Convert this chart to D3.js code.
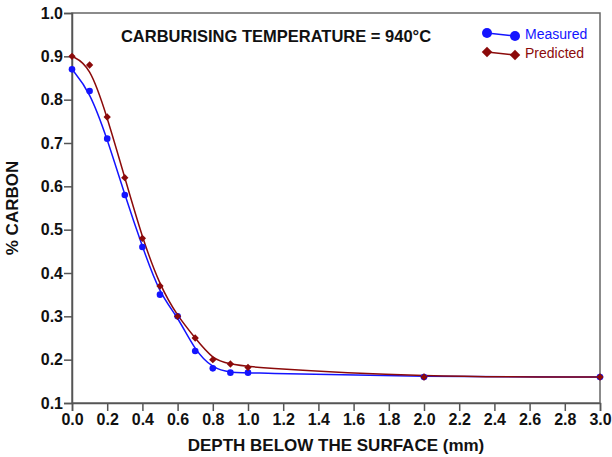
<!DOCTYPE html>
<html>
<head>
<meta charset="utf-8">
<script src="https://cdn.jsdelivr.net/npm/d3@7"></script>
<style>
  body { margin: 0; background: #fff; }
  svg { font-family: "Liberation Sans", Arial, sans-serif; }
</style>
</head>
<body>
<script>
// depth below surface (mm)
let depth = [0, 0.1, 0.2, 0.3, 0.4, 0.5, 0.6, 0.7, 0.8, 0.9, 1.0, 2.0, 3.0];
let measured  = [0.87, 0.82, 0.71, 0.58, 0.46, 0.35, 0.30, 0.22, 0.18, 0.17, 0.17, 0.16, 0.16];
let predicted = [0.90, 0.88, 0.76, 0.62, 0.48, 0.37, 0.30, 0.25, 0.20, 0.19, 0.182, 0.16, 0.16];
let xTicks = [0, 0.2, 0.4, 0.6, 0.8, 1.0, 1.2, 1.4, 1.6, 1.8, 2.0, 2.2, 2.4, 2.6, 2.8, 3.0];
let yTicks = [0.1, 0.2, 0.3, 0.4, 0.5, 0.6, 0.7, 0.8, 0.9, 1.0];

let blue = "#1414ff", red = "#8b0a0a";

let margin = {top: 13, right: 12, bottom: 54, left: 72},
    width  = 612 - margin.left - margin.right,
    height = 457 - margin.top  - margin.bottom;

let svg = d3.select("body").append("svg")
    .attr("width", 612)
    .attr("height", 457)
  .append("g")
    .attr("transform", `translate(${margin.left}, ${margin.top})`);

let xScale = d3.scaleLinear().domain([0, 3]).range([0, width]);
let yScale = d3.scaleLinear().domain([0.1, 1.0]).range([height, 0]);

// frame
svg.append("rect")
    .attr("width", width)
    .attr("height", height)
    .attr("fill", "none")
    .attr("stroke", "#666")
    .attr("stroke-width", 1.5);

function styleAxis(g) {
  g.attr("font-family", null).attr("font-size", null);
  g.selectAll(".tick line, .domain").attr("stroke", "#555").attr("stroke-width", 1.5);
  g.selectAll(".tick text")
      .style("font-size", "16px")
      .style("font-weight", "bold")
      .attr("fill", "#111");
}

svg.append("g")
    .attr("transform", `translate(0, ${height})`)
    .call(d3.axisBottom(xScale).tickValues(xTicks).tickFormat(d3.format(".1f")).tickSizeOuter(0).tickSize(8).tickPadding(3))
    .call(styleAxis);
svg.append("g")
    .call(d3.axisLeft(yScale).tickValues(yTicks).tickFormat(d3.format(".1f")).tickSizeOuter(0).tickSize(8).tickPadding(1))
    .call(styleAxis);

function drawSeries(vals, color) {
  let line = d3.line()
      .x((v, i) => xScale(depth[i]))
      .y(v => yScale(v))
      .curve(d3.curveBasis);
  svg.append("path")
      .datum(vals)
      .attr("fill", "none")
      .attr("stroke", color)
      .attr("stroke-width", 1.5)
      .attr("d", line);
}

drawSeries(measured, blue);
drawSeries(predicted, red);

svg.selectAll(".dot")
    .data(measured)
    .enter().append("circle")
      .attr("class", "dot")
      .attr("cx", (v, i) => xScale(depth[i]))
      .attr("cy", v => yScale(v))
      .attr("r", 3.3)
      .attr("fill", blue);

let diamond = d3.symbol().type(d3.symbolDiamond2).size(34);
svg.selectAll(".dia")
    .data(predicted)
    .enter().append("path")
      .attr("class", "dia")
      .attr("transform", (v, i) => `translate(${xScale(depth[i])}, ${yScale(v)})`)
      .attr("d", diamond)
      .attr("fill", red);

// title
svg.append("text")
    .attr("x", 204)
    .attr("y", 29)
    .attr("text-anchor", "middle")
    .attr("font-size", 16.5)
    .attr("font-weight", "bold")
    .attr("fill", "#111")
    .text("CARBURISING TEMPERATURE = 940°C");

// legend
let legend = svg.append("g").attr("transform", "translate(415, 20)");
let bigDiamond = d3.symbol().type(d3.symbolDiamond2).size(70);
[["Measured", blue, 0], ["Predicted", red, 19]].forEach(([name, color, dy]) => {
  let g = legend.append("g").attr("transform", `translate(0, ${dy})`);
  g.append("line")
      .attr("x1", 0).attr("y1", 0)
      .attr("x2", 28).attr("y2", 3)
      .attr("stroke", color)
      .attr("stroke-width", 1.5);
  [[0, 0], [28, 3]].forEach(([px, py]) => {
    if (name === "Measured") {
      g.append("circle").attr("cx", px).attr("cy", py).attr("r", 5).attr("fill", color);
    } else {
      g.append("path").attr("transform", `translate(${px}, ${py})`).attr("d", bigDiamond).attr("fill", color);
    }
  });
  g.append("text")
      .attr("x", 38)
      .attr("y", 6)
      .attr("font-size", 14)
      .attr("fill", color)
      .text(name);
});

// axis titles
svg.append("text")
    .attr("x", width / 2)
    .attr("y", height + 48)
    .attr("text-anchor", "middle")
    .attr("font-size", 17)
    .attr("font-weight", "bold")
    .attr("fill", "#111")
    .text("DEPTH BELOW THE SURFACE (mm)");

svg.append("text")
    .attr("transform", `translate(${-54}, ${height / 2}) rotate(-90)`)
    .attr("text-anchor", "middle")
    .attr("font-size", 17)
    .attr("font-weight", "bold")
    .attr("fill", "#111")
    .text("% CARBON");
</script>
</body>
</html>
